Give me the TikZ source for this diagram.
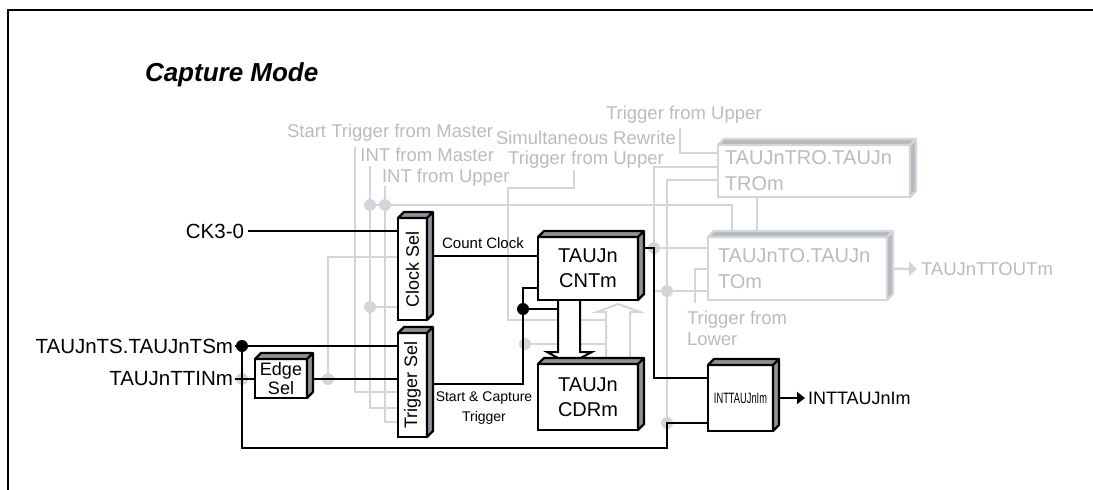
\documentclass[tikz,border=0pt]{standalone}
\usepackage{fontspec}
\usepackage{graphicx}
\setmainfont{Liberation Sans}
\usetikzlibrary{arrows.meta,backgrounds}
\definecolor{wiregrey}{RGB}{210,213,217}
\definecolor{labelgrey}{RGB}{185,188,191}
\definecolor{facegrey}{RGB}{140,146,153}
\definecolor{lightface}{RGB}{180,185,190}

\begin{document}
\begin{tikzpicture}[x=1pt, y=-1pt,
    every node/.style={inner sep=0pt, outer sep=0pt},
    wire/.style={line width=2pt, black},
    gwire/.style={line width=2.4pt, wiregrey},
    blk/.style={rectangle, draw=black, line width=2.4pt, fill=white, align=center, font=\fontsize{20}{25}\selectfont},
    sel/.style={blk, font=\fontsize{18}{20}\selectfont},
    gblk/.style={rectangle, draw=wiregrey, line width=2.4pt, fill=white, text=labelgrey, align=left, font=\fontsize{20}{26}\selectfont},
    lbl/.style={font=\fontsize{18}{21}\selectfont},
    inlbl/.style={font=\fontsize{20.5}{24}\selectfont},
    glbl/.style={text=labelgrey, font=\fontsize{18.5}{21}\selectfont},
    dot/.style={circle, fill=black, minimum size=12pt},
    gdot/.style={circle, fill=wiregrey, minimum size=12pt},
    face/.style={draw=black, line width=2.4pt, fill=facegrey, line join=round},
    gface/.style={draw=wiregrey, line width=2.4pt, fill=lightface, line join=round},
    hollow/.style={line width=2pt, fill=white, line join=miter}
]
\useasboundingbox (0,0) rectangle (1093,490);
\draw[line width=2pt] (1093,10) -- (8,10) -- (8,490);

\node[anchor=west, font=\fontsize{26}{30}\selectfont\bfseries\itshape] (title) at (145,75) {Capture Mode};

% blocks
\node[sel, minimum width=29pt, minimum height=102pt] (clk) at (412.5,269) {\rotatebox{90}{Clock Sel}};
\node[sel, minimum width=29pt, minimum height=104pt] (trg) at (412.5,385) {\rotatebox{90}{Trigger Sel}};
\node[sel, minimum width=52pt, minimum height=39pt, font=\fontsize{18}{19}\selectfont] (edge) at (281,378.5) {Edge\\Sel};
\node[blk, minimum width=100pt, minimum height=63pt] (cnt) at (588,268.5) {TAUJn\\CNTm};
\node[blk, minimum width=100pt, minimum height=66pt] (cdr) at (588,397) {TAUJn\\CDRm};
\node[blk, minimum width=65pt, minimum height=66pt] (inti) at (740.5,398) {\scalebox{0.62}[1]{\fontsize{15}{15}\selectfont INTTAUJnIm}};
\node[gblk, minimum width=192pt, minimum height=52pt, text width=178pt] (tro) at (814,171) {TAUJnTRO.TAUJn\\TROm};
\node[gblk, minimum width=179pt, minimum height=63pt, text width=159pt] (tom) at (797.5,268.5) {TAUJnTO.TAUJn\\TOm};

\foreach \b in {clk,trg,edge,cnt,cdr,inti}
  \draw[face] (\b.north west) -- ++(6,-6) -- ([shift={(6,-6)}]\b.north east) -- ([shift={(6,-6)}]\b.south east) -- (\b.south east) -- (\b.north east) -- cycle (\b.north east) -- ++(6,-6);
\foreach \b in {tro,tom}
  \draw[gface] (\b.north west) -- ++(6,-6) -- ([shift={(6,-6)}]\b.north east) -- ([shift={(6,-6)}]\b.south east) -- (\b.south east) -- (\b.north east) -- cycle (\b.north east) -- ++(6,-6);

% labels
\node[inlbl, anchor=east] (ck) at (244,231) {CK3-0};
\node[inlbl, anchor=east] (ts) at (233,346) {TAUJnTS.TAUJnTSm};
\node[inlbl, anchor=east] (ttin) at (233,379) {TAUJnTTINm};
\node[lbl, anchor=west] (intout) at (808,398) {INTTAUJnIm};
\node[font=\fontsize{15}{18}\selectfont] (cclk) at (483,243) {Count Clock};
\node[font=\fontsize{14}{20}\selectfont, align=center] (sct) at (484,408) {Start \& Capture\\Trigger};

\node[glbl, anchor=east] (stm) at (493,133) {Start Trigger from Master};
\node[glbl, anchor=east] (intm) at (494,155) {INT from Master};
\node[glbl, anchor=west] (intu) at (382,178) {INT from Upper};
\node[glbl, align=center, font=\fontsize{18.5}{20}\selectfont] (srw) at (586,150) {Simultaneous Rewrite\\Trigger from Upper};
\node[glbl, anchor=west] (tfu) at (606,115) {Trigger from Upper};
\node[glbl, anchor=west] (ttout) at (921,269) {TAUJnTTOUTm};
\node[glbl, anchor=north west, align=left] (tfl) at (687,311) {Trigger from\\Lower};

% junctions
\coordinate (jA) at (370,205);
\coordinate (jB) at (385,205);
\coordinate (jC) at (370,307);
\coordinate (jE) at (328,379);
\coordinate (jT) at (242,346);
\coordinate (jI) at (242,379);
\coordinate (jK) at (523,309);
\coordinate (jL) at (525,344);
\coordinate (jN) at (654,248);
\coordinate (jO) at (667,291);
\coordinate (jP) at (667,423);

\begin{scope}[on background layer]
% grey wiring
\draw[gwire] (355,147) |- (trg.west |- 0,392);
\draw[gwire] (370,166) |- (trg.west |- 0,408);
\draw[gwire] (385,186) |- (trg.west |- 0,422);
\draw[gwire] (jA) -| (tom.north -| 732,0);
\draw[gwire] (jC) -- (clk.west |- jC);
\draw[gwire] (jE) |- (clk.west |- 0,257);
\draw[gwire] (574,170) |- (508,188) |- (606,320);
\draw[gwire] (jL) -- (606,344);
\draw[gwire] (680,128) |- (tro.west |- 0,153);
\draw[gwire] (jN) |- (tro.west |- 0,167);
\draw[gwire] (jP) |- (tro.west |- 0,180);
\draw[gwire] (jN) -- (tom.west |- jN);
\draw[gwire] (654,291) -- (tom.west |- jO);
\draw[gwire] (695,303) |- (tom.west |- 0,269);
\draw[gwire] (tro.south -| 757,0) -- (tom.north -| 757,0);
\draw[gwire, -{Triangle[length=8pt,width=14pt]}, shorten >=4pt] (tom.east) -- (ttout.west);
\draw[wiregrey, hollow] (606,364) -- (606,312) -- (597,312) -- (618,304) -- (640,312) -- (630,312) -- (630,364);
\foreach \j in {jA,jB,jC,jE,jI,jL,jN,jO,jP}
  \node[gdot] at (\j) {};
% black wiring
\draw[wire, shorten <=4pt] (ck.east) -- (clk.west |- ck.east);
\draw[wire, shorten <=2pt] (ts.east) -- (trg.west |- ts.east);
\draw[wire, shorten <=2pt] (ttin.east) -- (edge.west |- ttin.east);
\draw[wire] (edge.east) -- (trg.west |- edge.east);
\draw[wire] (jT) |- (667,448) -- (jP) -- (inti.west |- jP);
\draw[wire] (clk.east |- 0,256) -- (cnt.west |- 0,256);
\draw[wire] (trg.east |- 0,384) -| (jK) |- (cnt.west |- 0,288);
\draw[wire] (jK) -- (558,309);
\draw[wire] (cnt.east |- jN) -- (jN) |- (inti.west |- 0,378);
\draw[wire, -{Triangle[length=8pt,width=12pt]}, shorten >=3pt] (inti.east) -- (intout.west);
\draw[hollow] (558,300) -- (558,352) -- (547,352) -- (569,364) -- (592,352) -- (580,352) -- (580,300);
\node[dot] at (jT) {};
\node[dot] at (jK) {};
\end{scope}
\end{tikzpicture}
\end{document}
